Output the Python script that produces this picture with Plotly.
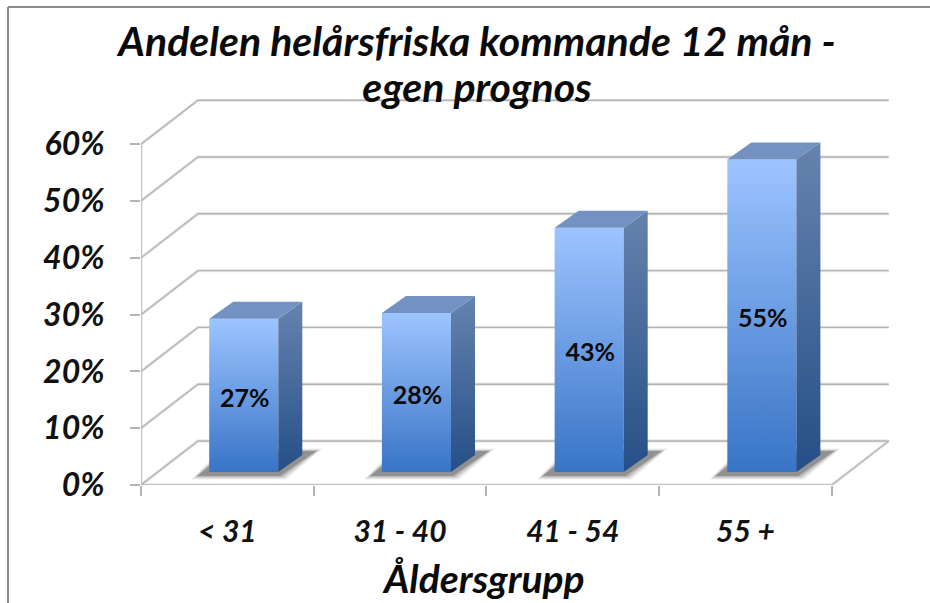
import plotly.graph_objects as go

categories = ["< 31", "31 - 40", "41 - 54", "55 +"]
values = [27, 28, 43, 55]
y_ticks = [0, 10, 20, 30, 40, 50, 60]
title_lines = ["Andelen helårsfriska kommande 12 mån -", "egen prognos"]
x_title = "Åldersgrupp"

FONT = "Lato"
W, H = 930, 603
L, R, T, B = 141, 892, 99, 485
PX_X = 172.7   # px per category
PX_Y = 5.68    # px per percent
WALL_DX, WALL_DY = 57 / PX_X, 44 / PX_Y
BAR_DX, BAR_DY = 24 / PX_X, 17 / PX_Y
BAR_START, BAR_W, BAR_BASE = 0.395, 0.40, 13 / PX_Y
n = len(categories)
GRID = "#B4B4B4"
HALO = "#EBEBEB"

fig = go.Figure()


def line(xs, ys, color=GRID, width=1.6):
    fig.add_trace(go.Scatter(x=xs, y=ys, mode="lines", cliponaxis=False, hoverinfo="skip",
                             line=dict(color=color, width=width), showlegend=False))


def poly(xs, ys, color=None, grad=None, start=None, stop=None):
    kw = dict(fillcolor=color) if color else dict(
        fillgradient=dict(type="vertical", colorscale=grad, start=start, stop=stop))
    fig.add_trace(go.Scatter(x=xs + xs[:1], y=ys + ys[:1], mode="lines", fill="toself", line=dict(width=0),
                             cliponaxis=False, hoverinfo="skip", showlegend=False, **kw))


for col, w in ((HALO, 3.4), (GRID, 1.4)):
    # walls: horizontal gridlines on the back wall, diagonals on the side wall
    for t in y_ticks:
        line([0, WALL_DX, n + WALL_DX], [t, t + WALL_DY, t + WALL_DY], col, w)
    # floor and axes
    line([n, n + WALL_DX], [0, WALL_DY], col, w)
    line([0, 0], [0, y_ticks[-1]], col, w)
    line([0, n], [0, 0], col, w)

# bars
for i, v in enumerate(values):
    x0 = i + BAR_START
    x1 = x0 + BAR_W
    b = BAR_BASE
    top = b + v
    # floor shadow: stacked translucent layers give a soft edge
    for a, g in ((0.08, 6), (0.12, 4), (0.18, 2), (0.30, 0)):
        sx = g / PX_X
        sy = g / PX_Y
        poly([x0 - 12 / PX_X - sx, x1 + 2 / PX_X + sx, x1 + 38 / PX_X + sx, x0 + 18 / PX_X - sx],
             [b - 4 / PX_Y - sy * 0.6, b - 4 / PX_Y - sy * 0.6, b + 21 / PX_Y + sy * 0.4, b + 21 / PX_Y + sy * 0.4],
             color=f"rgba(50,50,50,{a})")
    # front
    poly([x0, x1, x1, x0], [b, b, top, top],
         grad=[[0, "#3874C6"], [1, "#9DC4FF"]], start=b, stop=top)
    # side
    poly([x1, x1 + BAR_DX, x1 + BAR_DX, x1], [b, b + BAR_DY, top + BAR_DY, top],
         grad=[[0, "#254F87"], [1, "#6683AE"]], start=b, stop=top + BAR_DY)
    # top
    poly([x0, x1, x1 + BAR_DX, x0 + BAR_DX], [top, top, top + BAR_DY, top + BAR_DY], color="#7391C1")

# data labels
fig.add_trace(go.Scatter(
    x=[i + BAR_START + BAR_W / 2 + 1 / PX_X for i in range(n)],
    y=[BAR_BASE + v / 2 - 5 / PX_Y for v in values],
    text=[f"{v}%" for v in values], mode="text", hoverinfo="skip", showlegend=False, cliponaxis=False,
    textfont=dict(family=FONT, size=25, color="#0A0A0A", weight="bold"),
))

title_text = "<br>".join(f'<span style="font-size:41px">{t}</span>' for t in title_lines)
fig.update_layout(
    width=W, height=H, autosize=False,
    margin=dict(l=L, r=W - R, t=T, b=H - B),
    paper_bgcolor="white", plot_bgcolor="white", showlegend=False,
    title=dict(text=title_text, x=477 / W, xanchor="center", y=1 - 56 / H, yanchor="top", yref="container",
               font=dict(family=FONT, size=35, color="#0A0A0A", weight="bold", style="italic")),
    xaxis=dict(range=[0, (R - L) / PX_X], showgrid=False, zeroline=False, showline=False,
               tickmode="array", tickvals=[i + 0.5 for i in range(n)], ticktext=categories,
               ticks="", ticklabelstandoff=26,
               tickfont=dict(family=FONT, size=30, color="#111", weight="bold", style="italic"),
               minor=dict(tickmode="array", tickvals=list(range(n + 1)), ticks="outside", ticklen=10,
                          tickcolor=GRID, tickwidth=2, showgrid=False)),
    yaxis=dict(range=[0, (B - T) / PX_Y], showgrid=False, zeroline=False, showline=False,
               tickmode="array", tickvals=y_ticks, ticktext=[f"{t}%" for t in y_ticks],
               ticks="outside", ticklen=10, tickcolor=GRID, tickwidth=2, ticklabelstandoff=19,
               tickfont=dict(family=FONT, size=32, color="#111", weight="bold", style="italic")),
    annotations=[dict(text=x_title, xref="paper", yref="paper", x=(483 - L) / (R - L), y=(B - 578) / (B - T),
                      xanchor="center", yanchor="middle", showarrow=False,
                      font=dict(family=FONT, size=39, color="#0A0A0A", weight="bold", style="italic"))],
    shapes=[dict(type="line", xref="paper", yref="paper", x0=(8 - L) / (R - L), x1=(8 - L) / (R - L),
                 y0=(B - 7) / (B - T), y1=(B - H) / (B - T), line=dict(color="#8C8C8C", width=2)),
            dict(type="line", xref="paper", yref="paper", x0=(8 - L) / (R - L), x1=(W - L) / (R - L),
                 y0=(B - 7) / (B - T), y1=(B - 7) / (B - T), line=dict(color="#8C8C8C", width=2))],
)

fig.write_html("out.html", config=dict(displayModeBar=False),
               post_script="document.body.style.margin='0';document.body.style.overflow='hidden';")
